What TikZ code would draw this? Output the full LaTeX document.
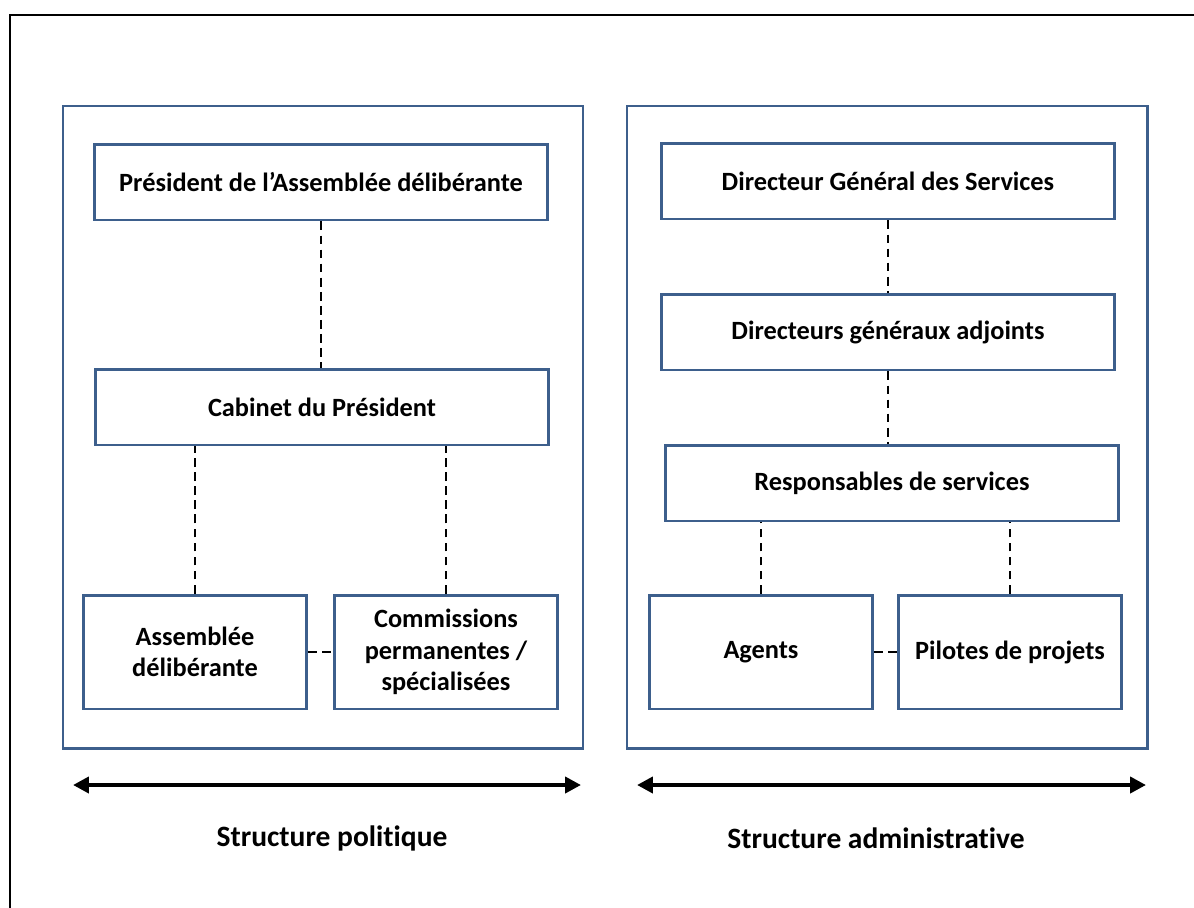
\documentclass[tikz,border=0pt]{standalone}
\usepackage{fontspec}
\setmainfont{Carlito}[Ligatures=NoCommon]
\usepackage{tikz}
\usetikzlibrary{arrows.meta,positioning,calc}

\definecolor{boxblue}{RGB}{61,95,140}

\tikzset{
  unit/.style={draw=boxblue, line width=1.7pt, align=center, inner sep=2pt,
    font=\fontsize{15}{18}\selectfont\bfseries},
  wide/.style={unit, minimum width=9.07cm, minimum height=1.52cm},
  small/.style={unit, minimum width=4.46cm, minimum height=2.28cm},
  link/.style={line width=1.1pt, dash pattern=on 5pt off 3pt},
  span/.style={line width=2.4pt, {Triangle[length=9pt,width=9pt]}-{Triangle[length=9pt,width=9pt]}},
  caption/.style={font=\fontsize{16.8}{20}\selectfont\bfseries}
}

\begin{document}
\begin{tikzpicture}[x=0.02cm, y=-0.02cm]
		\clip (0,0) rectangle (1194,907);
		\useasboundingbox (0,0) rectangle (1194,907);
		\draw[line width=1.7pt] (10,15) rectangle (1210,925);

		% structure politique
		\draw[boxblue, line width=1.7pt] (63,106) rectangle (583,748);
		\node[wide] (Pres) at (321,182) {Président de l’Assemblée délibérante};
		\node[wide] (Cab) at (322,407) {Cabinet du Président};
		\node[small] (Asm) at (195,652) {Assemblée\\délibérante};
		\node[small] (Com) at (446,652) {Commissions\\permanentes /\\spécialisées};
		\draw[link] (Pres.south) -- (Pres.south |- Cab.north);
		\draw[link] (Asm.north) -- (Asm.north |- Cab.south);
		\draw[link] (Com.north) -- (Com.north |- Cab.south);
		\draw[link] (Asm) -- (Com);

		% structure administrative
		\draw[boxblue, line width=1.7pt] (627,106) rectangle (1147,748);
		\node[wide] (DGS) at (888,181) {Directeur Général des Services};
		\node[wide] (DGA) at (888,332) {Directeurs généraux adjoints};
		\node[wide] (Resp) at (892,483) {Responsables de services};
		\node[small] (Agt) at (761,652) {Agents};
		\node[small] (Pil) at (1010,652) {Pilotes de projets};
		\draw[link] (DGS.south) -- (DGS.south |- DGA.north);
		\draw[link] (DGA.south) -- (DGA.south |- Resp.north);
		\draw[link] (Agt.north) -- (Agt.north |- Resp.south);
		\draw[link] (Pil.north) -- (Pil.north |- Resp.south);
		\draw[link] (Agt) -- (Pil);

		% legendes
		\coordinate (P1) at (73,785);
		\coordinate (P2) at (581,785);
		\coordinate (A1) at (637,785);
		\coordinate (A2) at (1146,785);
		\draw[span] (P1) -- (P2);
		\draw[span] (A1) -- (A2);
		\node[caption] (Pol) at (332,838) {Structure politique};
		\node[caption] (Adm) at (876,838) {Structure administrative};
	\end{tikzpicture}
\end{document}
